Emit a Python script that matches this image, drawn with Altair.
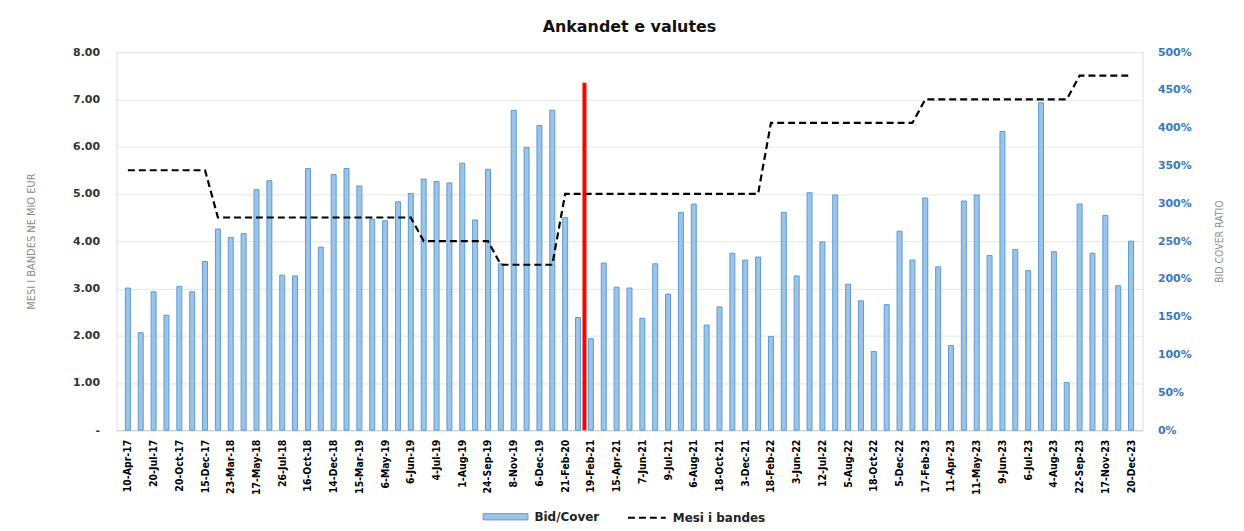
import altair as alt
import pandas as pd

# ---------------- data ----------------
tick_labels = [
    "10-Apr-17", "20-Jul-17", "20-Oct-17", "15-Dec-17", "23-Mar-18", "17-May-18",
    "26-Jul-18", "16-Oct-18", "14-Dec-18", "15-Mar-19", "6-May-19", "6-Jun-19",
    "4-Jul-19", "1-Aug-19", "24-Sep-19", "8-Nov-19", "6-Dec-19", "21-Feb-20",
    "19-Feb-21", "15-Apr-21", "7-Jun-21", "9-Jul-21", "6-Aug-21", "18-Oct-21",
    "3-Dec-21", "18-Feb-22", "3-Jun-22", "12-Jul-22", "5-Aug-22", "18-Oct-22",
    "5-Dec-22", "17-Feb-23", "11-Apr-23", "11-May-23", "9-Jun-23", "6-Jul-23",
    "4-Aug-23", "22-Sep-23", "17-Nov-23", "20-Dec-23",
]

# Bid/Cover ratio (1.00 = 100%), one value per auction
bid_cover = [
    1.88, 1.29, 1.83, 1.52, 1.90, 1.83, 2.23, 2.66, 2.55, 2.60,
    3.18, 3.30, 2.05, 2.04, 3.46, 2.42, 3.38, 3.46, 3.23, 2.79,
    2.77, 3.02, 3.13, 3.32, 3.29, 3.27, 3.53, 2.78, 3.45, 2.20,
    4.23, 3.74, 4.03, 4.23, 2.81, 1.49, 1.21, 2.21, 1.89, 1.88,
    1.48, 2.20, 1.80, 2.88, 2.99, 1.39, 1.63, 2.34, 2.25, 2.29,
    1.24, 2.88, 2.04, 3.14, 2.49, 3.11, 1.93, 1.71, 1.04, 1.66,
    2.63, 2.25, 3.07, 2.16, 1.12, 3.03, 3.11, 2.31, 3.95, 2.39,
    2.11, 4.33, 2.36, 0.63, 2.99, 2.34, 2.84, 1.91, 2.50,
]

# Mesi i bandes (mio EUR), one value per auction
mesi_bandes = [
    5.5, 5.5, 5.5, 5.5, 5.5, 5.5, 5.5, 4.5, 4.5, 4.5,
    4.5, 4.5, 4.5, 4.5, 4.5, 4.5, 4.5, 4.5, 4.5, 4.5,
    4.5, 4.5, 4.5, 4.0, 4.0, 4.0, 4.0, 4.0, 4.0, 3.5,
    3.5, 3.5, 3.5, 3.5, 5.0, 5.0, 5.0, 5.0, 5.0, 5.0,
    5.0, 5.0, 5.0, 5.0, 5.0, 5.0, 5.0, 5.0, 5.0, 5.0,
    6.5, 6.5, 6.5, 6.5, 6.5, 6.5, 6.5, 6.5, 6.5, 6.5,
    6.5, 6.5, 7.0, 7.0, 7.0, 7.0, 7.0, 7.0, 7.0, 7.0,
    7.0, 7.0, 7.0, 7.0, 7.5, 7.5, 7.5, 7.5, 7.5,
]

cutoff_position = [35.5]   # red marker between 21-Feb-20 and 19-Feb-21 auctions
cutoff_top = [7.35]

n = len(bid_cover)
df = pd.DataFrame({
    "idx": list(range(n)),
    "bid_cover": bid_cover,
    "mesi": mesi_bandes,
    "s1": ["Bid/Cover"] * n,
    "s2": ["Mesi i bandes"] * n,
})
red_df = pd.DataFrame({"x": cutoff_position, "y0": [0.0], "y1": cutoff_top})

# ---------------- styling ----------------
FONT = "DejaVu Sans"
COND = "DejaVu Sans Condensed"
label_expr = "[" + ",".join(f"'{l}'" for l in tick_labels) + "][datum.value/2]"

xscale = alt.Scale(domain=[-0.5, n - 0.5], nice=False, zero=False)
xaxis = alt.Axis(
    values=list(range(0, n, 2)), labelExpr=label_expr, labelAngle=270,
    labelAlign="right", labelBaseline="middle", labelFont=COND, labelFontSize=10.5,
    labelFontWeight="bold", labelColor="#000000", labelPadding=9, ticks=False,
    grid=False, domain=True, domainColor="#D0D0D0", title=None, labelOverlap=False,
    labelFlush=False,
)

left_axis = alt.Axis(
    orient="left", values=[0, 1, 2, 3, 4, 5, 6, 7, 8],
    labelExpr="datum.value == 0 ? '-' : format(datum.value, '.2f')",
    labelFont=FONT, labelFontSize=11, labelFontWeight="bold", labelColor="#333333",
    labelPadding=17, ticks=False, domain=False, grid=True, gridColor="#E6E6E6",
    gridWidth=1, title="MESI I BANDES NE MIO EUR", titleFont=COND,
    titleFontSize=11, titleFontWeight="normal", titleColor="#8C8C8C",
    titleX=-80, titleY=190, titleAngle=270,
)

right_axis = alt.Axis(
    orient="right", values=[0, 0.5, 1, 1.5, 2, 2.5, 3, 3.5, 4, 4.5, 5], format=".0%",
    labelFont=FONT, labelFontSize=11, labelFontWeight="bold", labelColor="#3A78C2",
    labelPadding=15, ticks=False, domain=False, grid=False,
    title="BID COVER RATIO", titleFont=COND, titleFontSize=10.5,
    titleFontWeight="normal", titleColor="#8C8C8C", titleX=82, titleY=190,
    titleAngle=270,
)

bars = alt.Chart(df).mark_bar(
    width=5, stroke="#5B9BD5", strokeWidth=1
).encode(
    x=alt.X("idx:Q", scale=xscale, axis=xaxis),
    y=alt.Y("bid_cover:Q", scale=alt.Scale(domain=[0, 5], nice=False), axis=right_axis),
    fill=alt.Fill(
        "s1:N", scale=alt.Scale(domain=["Bid/Cover"], range=["#9DC3E6"]),
        legend=alt.Legend(
            orient="none", legendX=368, legendY=444, title=None,
            symbolType="M-1,-0.14H1V0.14H-1Z", symbolSize=2025,
            symbolStrokeColor="#5B9BD5", symbolStrokeWidth=1,
            labelFont=FONT, labelFontSize=12, labelFontWeight="bold",
            labelColor="#222222", labelOffset=6,
        ),
    ),
)

line = alt.Chart(df).mark_line(color="black", strokeWidth=2.2).encode(
    x=alt.X("idx:Q", scale=xscale, axis=xaxis),
    y=alt.Y("mesi:Q", scale=alt.Scale(domain=[0, 8], nice=False), axis=left_axis),
    strokeDash=alt.StrokeDash(
        "s2:N", scale=alt.Scale(domain=["Mesi i bandes"], range=[[7, 4]]),
        legend=alt.Legend(
            orient="none", legendX=513, legendY=448, title=None,
            symbolType="stroke", symbolSize=1444, symbolStrokeColor="black",
            symbolStrokeWidth=2, symbolDash=[5.5, 2.5],
            labelFont=FONT, labelFontSize=12, labelFontWeight="bold",
            labelColor="#222222", labelOffset=6,
        ),
    ),
)

red = alt.Chart(red_df).mark_rule(color="#FF0000", strokeWidth=4).encode(
    x=alt.X("x:Q", scale=xscale, axis=xaxis),
    y=alt.Y("y0:Q", scale=alt.Scale(domain=[0, 8], nice=False), axis=None),
    y2="y1:Q",
)

chart = alt.layer(bars, line, red).resolve_scale(
    y="independent", fill="independent", strokeDash="independent"
).properties(
    width=1031, height=380,
    title=alt.TitleParams(
        "Ankandet e valutes", font=FONT, fontSize=16, fontWeight="bold",
        color="#111111", anchor="middle", offset=11, frame="group",
    ),
    autosize=alt.AutoSizeParams(type="none"),
    padding={"left": 109, "top": 43, "right": 94, "bottom": 95},
).configure_view(stroke=None).configure(background="white")

chart.save("out.html", embed_options={"renderer": "svg", "actions": False})
